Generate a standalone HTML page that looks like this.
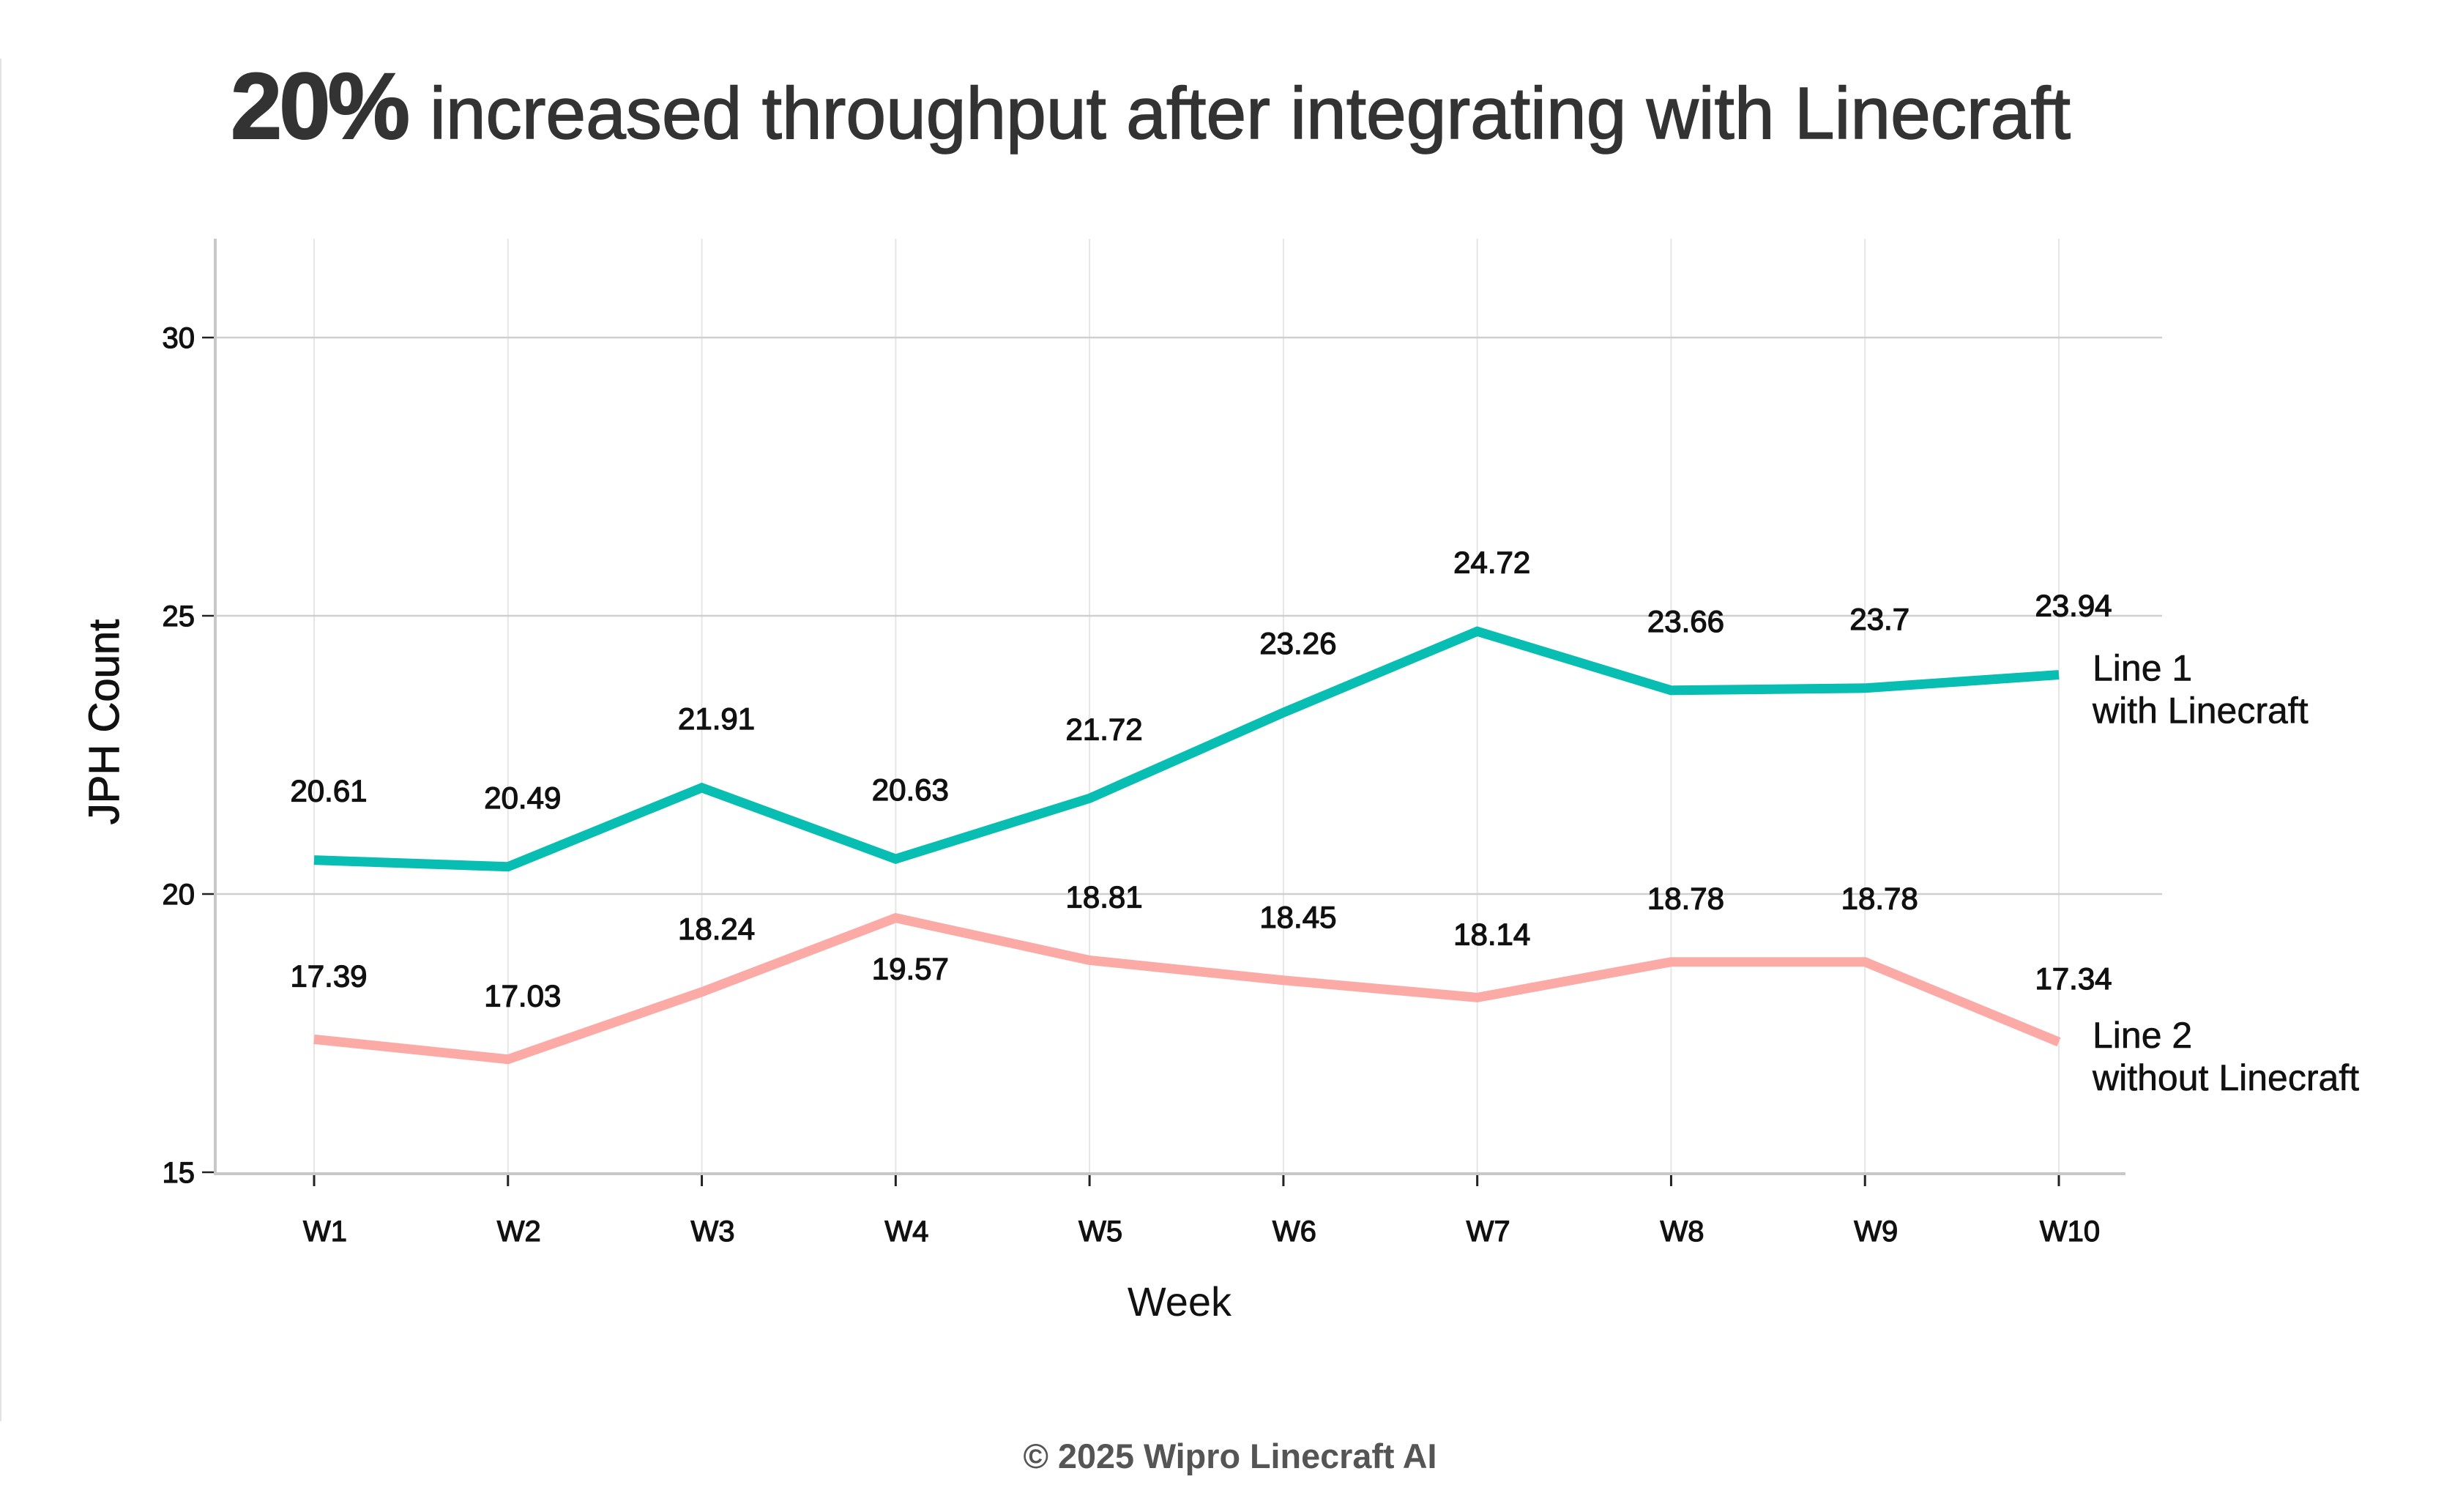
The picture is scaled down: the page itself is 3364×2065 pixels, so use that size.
<!DOCTYPE html>
<html><head><meta charset="utf-8"><style>
html,body{margin:0;padding:0;background:#fff;width:3364px;height:2065px;overflow:hidden}
svg{display:block;font-family:"Liberation Sans",sans-serif}
</style></head><body>
<svg id="chart" width="3364" height="2065" viewBox="0 0 3364 2065">
<line x1="1" y1="80" x2="1" y2="1941" stroke="#e2e2e2" stroke-width="2"/>
<text x="315" y="189" fill="#333"><tspan font-size="128" font-weight="bold" textLength="241" lengthAdjust="spacingAndGlyphs" letter-spacing="-4" stroke="#333" stroke-width="2">20%</tspan><tspan x="587" font-size="100" textLength="2241" lengthAdjust="spacingAndGlyphs" stroke="#333" stroke-width="1.5">increased throughput after integrating with Linecraft</tspan></text>
<g id="grid"></g>
<g id="axes"></g>
<g id="series"></g>
<g id="labels"></g>
<text x="162" y="986" font-size="58" fill="#111" stroke="#111" stroke-width="1" text-anchor="middle" transform="rotate(-90 162 986)">JPH Count</text>
<text x="1611" y="1797" font-size="56" fill="#111" text-anchor="middle">Week</text>
<text x="1680" y="2005" font-size="47" font-weight="bold" fill="#555" text-anchor="middle" textLength="565" lengthAdjust="spacingAndGlyphs">© 2025 Wipro Linecraft AI</text>
</svg>
<script>
const categories = ["W1","W2","W3","W4","W5","W6","W7","W8","W9","W10"];
const line1Values = [20.61,20.49,21.91,20.63,21.72,23.26,24.72,23.66,23.7,23.94];
const line2Values = [17.39,17.03,18.24,19.57,18.81,18.45,18.14,18.78,18.78,17.34];
const yTicks = [15,20,25,30];
const seriesNames = [["Line 1","with Linecraft"],["Line 2","without Linecraft"]];

const NS="http://www.w3.org/2000/svg";
const X0=429,X1=2812,Y15=1601,PPU=76;
const xs=i=>X0+(X1-X0)*i/(categories.length-1);
const ys=v=>Y15-(v-15)*PPU;
function mk(tag,attrs,parent,text){const e=document.createElementNS(NS,tag);for(const k in attrs)e.setAttribute(k,attrs[k]);if(text!==undefined)e.textContent=text;parent.appendChild(e);return e;}
const grid=document.getElementById('grid'),axes=document.getElementById('axes'),series=document.getElementById('series'),labels=document.getElementById('labels');

categories.forEach((c,i)=>{
  const g=mk('line',{x1:xs(i),x2:xs(i),y1:326,y2:1603,stroke:'#e6e6e6','stroke-width':2},grid);
  
  
  const t=mk('line',{x1:xs(i),x2:xs(i),y1:1603,y2:1620,stroke:'#222','stroke-width':3},axes);
  
  
  const l=mk('text',{x:xs(i)+15,y:1695,'font-size':40,fill:'#111',stroke:'#111','stroke-width':1.2,'text-anchor':'middle'},axes,c);
  
  
});
yTicks.forEach(v=>{
  if(v>15){const g=mk('line',{x1:293,x2:2953,y1:ys(v),y2:ys(v),stroke:'#cfcfcf','stroke-width':2.5},grid);
  
  }
  const t=mk('line',{x1:276,x2:293,y1:ys(v),y2:ys(v),stroke:'#222','stroke-width':2.5},axes);
  
  
  const l=mk('text',{x:266,y:ys(v)+14,'font-size':40,fill:'#111',stroke:'#111','stroke-width':1.2,'text-anchor':'end'},axes,String(v));
  
  
});
const ya=mk('line',{x1:294,x2:294,y1:326,y2:1604,stroke:'#c8c8c8','stroke-width':4},axes);


const xa=mk('line',{x1:292,x2:2903,y1:1603,y2:1603,stroke:'#c8c8c8','stroke-width':4},axes);



[[line1Values,'#08bdb1'],[line2Values,'#fbaaa6']].forEach((s,si)=>{
  const vals=s[0];
  const p=mk('polyline',{points:vals.map((v,i)=>xs(i)+','+ys(v)).join(' '),fill:'none',stroke:s[1],'stroke-width':13,'stroke-linejoin':'miter'},series);
  
  
  vals.forEach((v,i)=>{
    const below=(si===1&&i===3);
    const t=mk('text',{x:xs(i)+20,y:ys(v)+(below?84:(si===0?-80:-72)),'font-size':42,fill:'#111',stroke:'#111','stroke-width':1.3,'text-anchor':'middle'},labels,String(v));
    
    
  });
  const last=vals[vals.length-1];
  const n=seriesNames[si];
  const a=mk('text',{x:2858,y:ys(last)+8,'font-size':50,fill:'#111',stroke:'#111','stroke-width':0.6},labels,n[0]);
  
  
  const b=mk('text',{x:2858,y:ys(last)+66,'font-size':50,fill:'#111',stroke:'#111','stroke-width':0.6},labels,n[1]);
  
  
});
</script>
</body></html>
